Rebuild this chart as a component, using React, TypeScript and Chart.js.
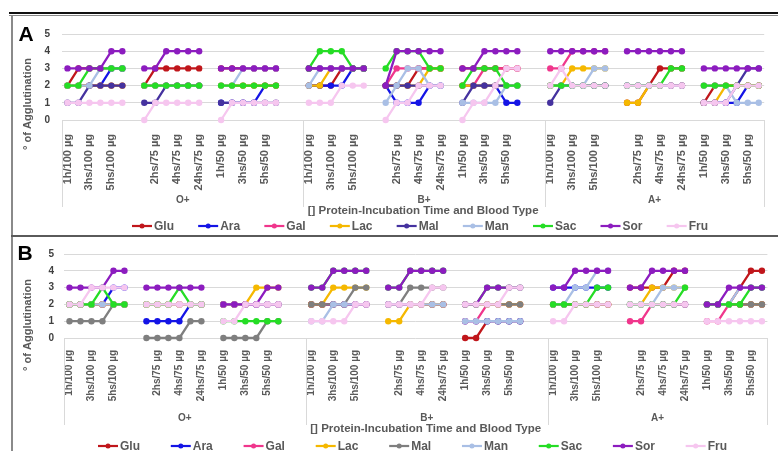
import React, { useEffect, useRef } from 'react';
import { Chart, registerables } from 'chart.js';
Chart.register(...registerables);

const TIMES = ['1h', '2hs', '3hs', '4hs', '5hs', '24hs'];
const DOSES = ['100 µg', '75 µg', '50 µg'];
const BLOOD_TYPES = ['O+', 'B+', 'A+'];
const SERIES = ['Glu', 'Ara', 'Gal', 'Lac', 'Mal', 'Man', 'Sac', 'Sor', 'Fru'];
const Y_TICKS = [0, 1, 2, 3, 4, 5];

const COLORS_A = ['#C0161B', '#1414E6', '#F0368C', '#F5B800', '#45329F', '#A9BFE5', '#25DD25', '#8C1CBF', '#F6C6EF'];
const COLORS_B = ['#C0161B', '#1414E6', '#F0368C', '#F5B800', '#7F7F7F', '#A9BFE5', '#25DD25', '#8C1CBF', '#F6C6EF'];

// Panel A — order: O+ (100,75,50 µg) | B+ (100,75,50) | A+ (100,75,50); 6 times each
const A_Glu = [2,3,3,3,3,3, 2,3,3,3,3,3, 3,3,3,3,3,3, 2,2,2,3,3,3, 2,2,2,3,3,3, 3,3,3,3,3,3, 2,2,2,2,2,2, 1,1,2,3,3,3, 1,2,2,2,2,2];
const A_Ara = [2,2,2,2,3,3, 2,2,2,2,2,2, 1,1,1,1,2,2, 2,2,2,2,3,3, 2,1,1,1,2,2, 2,2,2,2,1,1, 2,2,2,2,2,2, 2,2,2,2,2,2, 1,1,1,1,2,2];
const A_Gal = [2,2,2,2,2,2, 2,2,2,2,2,2, 2,2,2,2,2,2, 3,3,3,3,3,3, 2,3,3,3,3,3, 2,2,3,3,3,3, 3,3,4,4,4,4, 2,2,2,2,2,2, 2,2,2,2,2,2];
const A_Lac = [2,2,2,2,2,2, 2,2,2,2,2,2, 2,2,2,2,2,2, 2,2,3,3,3,3, 2,2,2,2,3,3, 2,2,2,2,2,2, 2,2,3,3,3,3, 1,1,2,2,2,2, 1,1,2,2,2,2];
const A_Mal = [1,1,2,2,2,2, 1,1,2,2,2,2, 1,1,1,1,1,1, 3,3,3,3,3,3, 2,2,2,2,2,2, 1,2,2,2,2,2, 1,2,2,2,2,2, 2,2,2,2,2,2, 1,1,1,2,3,3];
const A_Man = [2,2,2,3,3,3, 2,2,2,2,2,2, 2,2,3,3,3,3, 2,3,3,3,3,3, 1,2,3,3,2,2, 1,1,1,1,2,2, 2,2,2,2,3,3, 2,2,2,2,2,2, 2,2,2,1,1,1];
const A_Sac = [2,2,3,3,3,3, 2,2,2,2,2,2, 2,2,2,2,2,2, 3,4,4,4,3,3, 3,4,4,4,3,3, 2,3,3,3,2,2, 2,2,2,2,2,2, 2,2,2,2,3,3, 2,2,2,2,2,2];
const A_Sor = [3,3,3,3,4,4, 3,3,4,4,4,4, 3,3,3,3,3,3, 3,3,3,3,3,3, 2,4,4,4,4,4, 3,3,4,4,4,4, 4,4,4,4,4,4, 4,4,4,4,4,4, 3,3,3,3,3,3];
const A_Fru = [1,1,1,1,1,1, 0,1,1,1,1,1, 0,1,1,1,1,1, 1,1,1,2,2,2, 0,1,1,2,2,2, 0,1,1,2,3,3, 2,3,2,2,2,2, 2,2,2,2,2,2, 1,1,1,2,2,2];

// Panel B
const B_Glu = [2,2,2,2,2,2, 2,2,2,2,2,2, 2,2,2,2,2,2, 2,2,2,2,2,2, 2,2,2,2,2,2, 0,0,1,1,1,1, 2,2,2,2,2,2, 3,3,3,3,4,4, 2,2,2,3,4,4];
const B_Ara = [2,2,2,2,3,3, 1,1,1,1,2,2, 2,2,2,2,2,2, 2,2,2,2,2,2, 2,2,2,2,2,2, 1,1,1,1,1,1, 3,3,3,3,3,3, 2,2,2,2,2,2, 2,2,2,2,2,2];
const B_Gal = [2,2,2,2,2,2, 2,2,2,2,2,2, 2,2,2,2,2,2, 2,2,2,2,2,2, 2,2,2,2,2,2, 1,1,2,2,2,2, 2,2,2,2,2,2, 1,1,2,2,2,2, 1,1,2,2,2,2];
const B_Lac = [2,2,2,2,2,2, 2,2,2,2,2,2, 2,2,2,3,3,3, 2,2,3,3,3,3, 1,1,2,2,2,2, 2,2,2,2,2,2, 2,2,2,2,2,2, 2,2,3,3,3,3, 2,2,2,2,2,2];
const B_Mal = [1,1,1,1,2,2, 0,0,0,0,1,1, 0,0,0,0,1,1, 2,2,2,2,3,3, 2,2,3,3,3,3, 2,2,2,2,2,2, 2,2,2,2,2,2, 2,2,2,2,2,2, 2,2,2,2,2,2];
const B_Man = [2,2,2,2,2,2, 2,2,2,2,2,2, 2,2,2,2,2,2, 1,1,2,2,2,2, 2,2,2,2,2,2, 1,1,1,1,1,1, 2,2,3,3,4,4, 2,2,2,3,3,3, 2,2,2,3,3,3];
const B_Sac = [2,2,2,3,2,2, 2,2,2,3,2,2, 1,1,1,1,1,1, 3,3,4,4,4,4, 3,3,4,4,4,4, 2,2,3,3,3,3, 2,2,2,2,3,3, 2,2,2,2,2,3, 2,2,2,2,3,3];
const B_Sor = [3,3,3,3,4,4, 3,3,3,3,3,3, 2,2,2,2,3,3, 3,3,4,4,4,4, 3,3,4,4,4,4, 2,2,3,3,3,3, 3,3,4,4,4,4, 3,3,4,4,4,4, 2,2,3,3,3,3];
const B_Fru = [2,2,3,3,3,3, 2,2,2,2,2,2, 1,1,2,2,2,2, 1,1,1,1,2,2, 2,2,2,2,3,3, 2,2,2,2,3,3, 1,1,2,2,2,2, 2,2,2,2,2,2, 1,1,1,1,1,1];

const PANEL_A_VALUES = [A_Glu, A_Ara, A_Gal, A_Lac, A_Mal, A_Man, A_Sac, A_Sor, A_Fru];
const PANEL_B_VALUES = [B_Glu, B_Ara, B_Gal, B_Lac, B_Mal, B_Man, B_Sac, B_Sor, B_Fru];

const FONT = "'Liberation Sans', Arial, sans-serif";
const TEXT = '#595959';

function buildStructure() {
  const labels: string[] = [];
  const groupStarts: number[] = [];
  BLOOD_TYPES.forEach((_, g) => {
    groupStarts.push(labels.length);
    DOSES.forEach((d, di) => {
      TIMES.forEach((t) => labels.push(`${t}/${d}`));
      if (di < DOSES.length - 1) labels.push('');
    });
    if (g < BLOOD_TYPES.length - 1) {
      labels.push('');
      labels.push('');
    }
  });
  groupStarts.push(labels.length);
  return { labels, groupStarts };
}

function expand(vals: number[]): (number | null)[] {
  const out: (number | null)[] = [];
  let k = 0;
  BLOOD_TYPES.forEach((_, g) => {
    DOSES.forEach((_d, di) => {
      TIMES.forEach(() => out.push(vals[k++]));
      if (di < DOSES.length - 1) out.push(null);
    });
    if (g < BLOOD_TYPES.length - 1) {
      out.push(null);
      out.push(null);
    }
  });
  return out;
}

const { labels: LABELS, groupStarts: GROUP_STARTS } = buildStructure();

type PanelCfg = {
  letter: string;
  top: number;
  height: number;
  plotTop: number;
  plotBottom: number;
  plotLeft: number;
  yTickPad: number;
  xTickPad: number;
  xTickSize: number;
  groupY: number;
  dividerBottom: number;
  titleY: number;
  legendY: number;
  legendLeft: number;
  legendRight: number;
  yTitleX: number;
  yTitleY: number;
  letterX: number;
  letterY: number;
  values: number[][];
  colors: string[];
};

const decorPlugin = {
  id: 'decor',
  afterDraw(chart: any, _args: any, o: any) {
    const ctx: CanvasRenderingContext2D = chart.ctx;
    const xs = chart.scales.x;
    const n = chart.data.labels.length;
    const w = (xs.right - xs.left) / n;
    const axisY = chart.chartArea.bottom;
    ctx.save();
    ctx.strokeStyle = '#D9D9D9';
    ctx.lineWidth = 1;
    GROUP_STARTS.forEach((s: number) => {
      const x = Math.round(xs.left + s * w) + 0.5;
      ctx.beginPath();
      ctx.moveTo(x, axisY);
      ctx.lineTo(x, o.dividerBottom);
      ctx.stroke();
    });
    ctx.fillStyle = TEXT;
    ctx.font = `bold 10px ${FONT}`;
    ctx.textAlign = 'center';
    ctx.textBaseline = 'middle';
    BLOOD_TYPES.forEach((bt, g) => {
      const cx = xs.left + ((GROUP_STARTS[g] + GROUP_STARTS[g + 1]) / 2) * w;
      ctx.fillText(bt, cx, o.groupY);
    });
    ctx.font = `bold 11.5px ${FONT}`;
    ctx.fillText('[] Protein-Incubation Time and Blood Type', (xs.left + xs.right) / 2 + 10, o.titleY);
    ctx.save();
    ctx.translate(o.yTitleX, o.yTitleY);
    ctx.rotate(-Math.PI / 2);
    ctx.font = `bold 11px ${FONT}`;
    ctx.fillText('° of Agglutination', 0, 0);
    ctx.restore();
    ctx.fillStyle = '#000';
    ctx.font = `bold 21px ${FONT}`;
    ctx.fillText(o.letter, o.letterX, o.letterY);
    ctx.font = `bold 12px ${FONT}`;
    const markW = 20;
    const tg = 2;
    const widths = SERIES.map((s) => markW + tg + ctx.measureText(s).width);
    const sum = widths.reduce((a, b) => a + b, 0);
    const gap = (o.legendRight - o.legendLeft - sum) / (SERIES.length - 1);
    let x = o.legendLeft;
    SERIES.forEach((s, i) => {
      const c = o.colors[i];
      ctx.strokeStyle = c;
      ctx.lineWidth = 2.2;
      ctx.beginPath();
      ctx.moveTo(x, o.legendY);
      ctx.lineTo(x + markW, o.legendY);
      ctx.stroke();
      ctx.fillStyle = c;
      ctx.beginPath();
      ctx.arc(x + markW / 2, o.legendY, 2.5, 0, Math.PI * 2);
      ctx.fill();
      ctx.fillStyle = TEXT;
      ctx.textAlign = 'left';
      ctx.fillText(s, x + markW + tg, o.legendY + 0.5);
      x += widths[i] + gap;
    });
    ctx.restore();
  },
};

function Panel({ cfg }: { cfg: PanelCfg }) {
  const ref = useRef<HTMLCanvasElement>(null);
  useEffect(() => {
    const canvas = ref.current!;
    const datasets = SERIES.map((name, i) => ({
      label: name,
      data: expand(cfg.values[i]),
      borderColor: cfg.colors[i],
      backgroundColor: cfg.colors[i],
      pointBackgroundColor: cfg.colors[i],
      pointBorderColor: cfg.colors[i],
      pointRadius: 3.2,
      pointHoverRadius: 3.2,
      pointBorderWidth: 0,
      borderWidth: 2.3,
      spanGaps: false,
      tension: 0,
      clip: false as any,
      order: SERIES.length - 1 - i,
    }));
    const chart = new Chart(canvas, {
      type: 'line',
      data: { labels: LABELS, datasets },
      plugins: [decorPlugin as any],
      options: {
        responsive: false,
        animation: false,
        events: [],
        layout: { padding: { top: cfg.plotTop, right: 778 - 768, left: 0, bottom: 0 } },
        plugins: {
          legend: { display: false },
          tooltip: { enabled: false },
          decor: cfg as any,
        } as any,
        scales: {
          x: {
            type: 'category',
            offset: true,
            grid: { display: false },
            border: { display: false },
            afterFit: (s: any) => {
              s.height = cfg.height - cfg.plotBottom;
            },
            ticks: {
              autoSkip: false,
              maxRotation: 90,
              minRotation: 90,
              padding: cfg.xTickPad,
              color: TEXT,
              font: { family: FONT, size: cfg.xTickSize, weight: 'bold' },
              callback: (_v: any, idx: number) => (idx % 2 === 0 ? LABELS[idx] : ''),
            },
          },
          y: {
            min: 0,
            max: 5,
            afterFit: (s: any) => {
              s.width = cfg.plotLeft;
            },
            afterBuildTicks: (s: any) => {
              s.ticks = Y_TICKS.map((v) => ({ value: v }));
            },
            grid: { color: '#D9D9D9', lineWidth: 1, drawTicks: false },
            border: { display: false },
            ticks: {
              padding: cfg.yTickPad,
              color: '#404040',
              font: { family: FONT, size: 10, weight: 'bold' },
            },
          },
        },
      } as any,
    });
    return () => chart.destroy();
  }, []);
  return (
    <canvas
      ref={ref}
      width={778}
      height={cfg.height}
      style={{ position: 'absolute', left: 0, top: cfg.top, width: 778, height: cfg.height }}
    />
  );
}

const PANEL_A: PanelCfg = {
  letter: 'A', top: 16, height: 219, plotTop: 12, plotBottom: 104, plotLeft: 62,
  yTickPad: 12, xTickPad: 6, xTickSize: 11,
  groupY: 184, dividerBottom: 191, titleY: 195, legendY: 210,
  legendLeft: 132, legendRight: 708,
  yTitleX: 28, yTitleY: 88, letterX: 26, letterY: 19,
  values: PANEL_A_VALUES, colors: COLORS_A,
};

const PANEL_B: PanelCfg = {
  letter: 'B', top: 238, height: 213, plotTop: 9, plotBottom: 100, plotLeft: 64,
  yTickPad: 10, xTickPad: 4, xTickSize: 10,
  groupY: 180, dividerBottom: 187, titleY: 191, legendY: 208,
  legendLeft: 98, legendRight: 727,
  yTitleX: 28, yTitleY: 87, letterX: 25, letterY: 16,
  values: PANEL_B_VALUES, colors: COLORS_B,
};

export default function App() {
  return (
    <div style={{ position: 'fixed', left: 0, top: 0, width: 778, height: 451, background: '#fff', overflow: 'hidden' }}>
      <Panel cfg={PANEL_A} />
      <Panel cfg={PANEL_B} />
      <div style={{ position: 'absolute', left: 9, top: 12, width: 769, height: 2, background: '#111', zIndex: 2 }} />
      <div style={{ position: 'absolute', left: 9, top: 15, width: 769, height: 1, background: '#888', zIndex: 2 }} />
      <div style={{ position: 'absolute', left: 11, top: 16, width: 2, height: 435, background: '#8a8a8a', zIndex: 2 }} />
      <div style={{ position: 'absolute', left: 11, top: 235, width: 767, height: 2, background: '#5a5a5a', zIndex: 2 }} />
    </div>
  );
}
